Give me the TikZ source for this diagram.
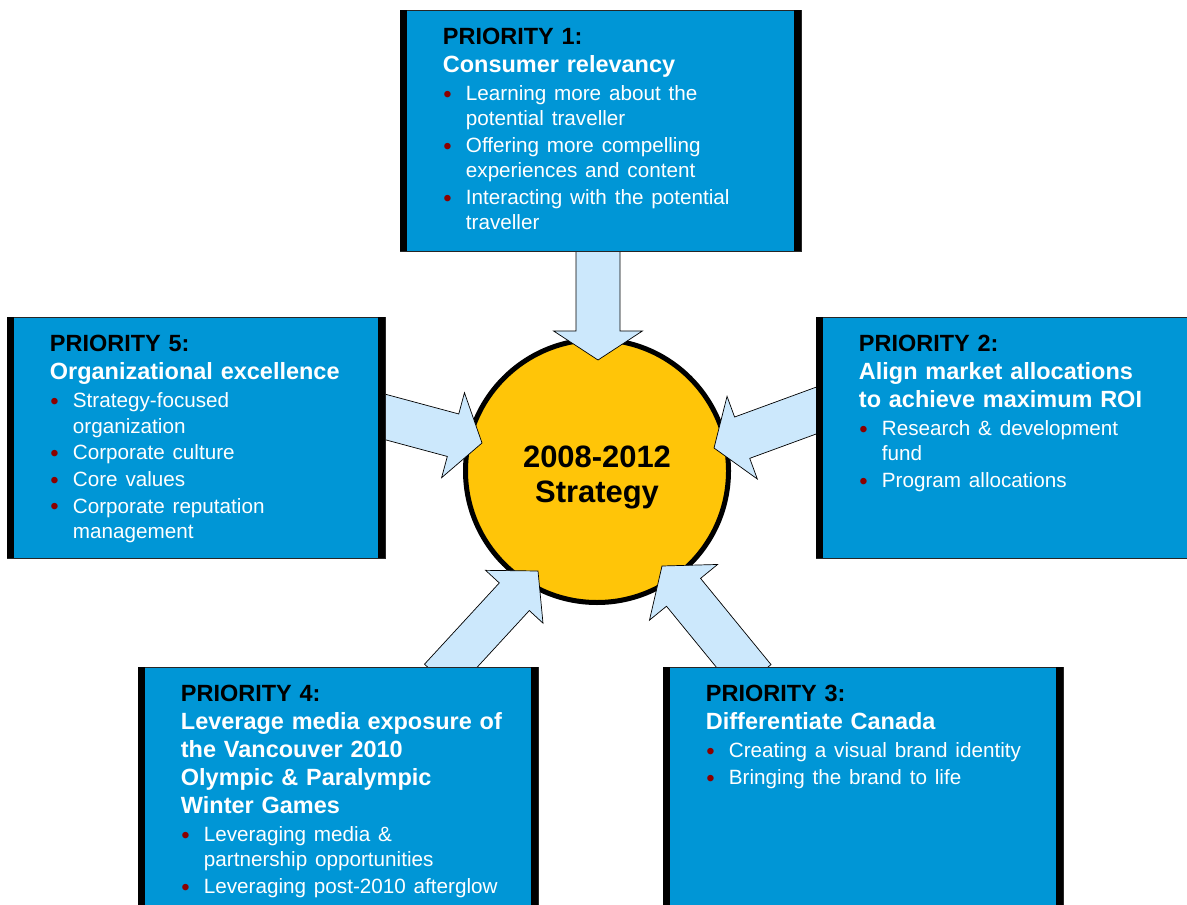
\documentclass[tikz,border=0pt]{standalone}
\usepackage{fontspec}
\setmainfont{Liberation Sans}
\usepackage{xcolor}
\usepackage{tikz}
\usetikzlibrary{positioning}
\usetikzlibrary{calc}

\definecolor{boxblue}{RGB}{0,150,214}
\definecolor{arrowblue}{RGB}{204,232,252}
\definecolor{hubyellow}{RGB}{255,197,8}
\definecolor{dotred}{RGB}{139,0,0}

\newcommand\prio[2]{\textcolor{black}{PRIORITY #1:}\\#2\par\vspace{1.3pt}}
\newcommand\itm[1]{\par\vspace{1.3pt}{\mdseries\fontsize{14.7}{17.8}\selectfont
  \hangindent=5.75mm\hangafter=1\noindent
  \makebox[5.75mm][l]{\hspace{0.1mm}\textcolor{dotred}{\raisebox{-1pt}{\fontsize{17}{17}\selectfont\textbullet}}}#1\par}}
\newcommand\blockarrow[5]{%
  \coordinate (ha) at ($(#2)!#5!(#1)$);
  \filldraw[flow] ($(#1)!#3!90:(#2)$) -- ($(ha)!#3!90:(#2)$) -- ($(ha)!#4!90:(#2)$) -- (#2)
    -- ($(ha)!#4!-90:(#2)$) -- ($(ha)!#3!-90:(#2)$) -- ($(#1)!#3!-90:(#2)$) -- cycle;
}

\begin{document}
\begin{tikzpicture}[x=0.25mm, y=-0.25mm,
    box/.style={rectangle, fill=boxblue, draw=black!85, line width=0.5pt, minimum height=60.25mm, inner sep=0pt},
    bar/.style={fill=black},
    txt/.style={inner sep=0pt, text width=92mm, align=left, text=white, font=\bfseries\fontsize{16.7}{19.9}\selectfont},
    hub/.style={circle, fill=hubyellow, draw=black, line width=1.25mm, minimum size=65.75mm, inner sep=0pt},
    flow/.style={fill=arrowblue, draw=black, line width=0.5pt, line join=miter}
]
\useasboundingbox (0,0) rectangle (1187,905);
\clip (0,0) rectangle (1187,905);

\node[hub] (hub) at (597,471) {};
\node[font=\bfseries\fontsize{22}{24.9}\selectfont, align=center] (year) at ([yshift=-1.5mm]hub.center) {2008-2012\\Strategy};

\coordinate (s1) at (598,240);
\coordinate (t1) at (598,360);
\coordinate (s5) at (370.5,413);
\coordinate (t5) at (482,443);
\coordinate (s2) at (830,405.5);
\coordinate (t2) at (714,448);
\coordinate (s4) at (439.5,678);
\coordinate (t4) at (538,571);
\coordinate (s3) at (754,678.5);
\coordinate (t3) at (662,566);

\blockarrow{s1}{t1}{5.5mm}{11.1mm}{7.25mm}
\blockarrow{s5}{t5}{5.5mm}{11mm}{7.5mm}
\blockarrow{s2}{t2}{5.5mm}{11mm}{7.5mm}
\blockarrow{s4}{t4}{5.1mm}{9.75mm}{8.75mm}
\blockarrow{s3}{t3}{5.5mm}{11mm}{8.5mm}

\node[box, minimum width=100.25mm] (b1) at (600.5,130.5) {};
\node[box, minimum width=94.5mm] (b5) at (196,437.5) {};
\node[box, minimum width=100.25mm] (b2) at (1016.5,437.5) {};
\node[box, minimum width=100mm] (b4) at (338,787.5) {};
\node[box, minimum width=100mm] (b3) at (863,787.5) {};

\foreach \b in {b1,b5,b2,b4,b3} {
  \fill[bar] (\b.north west) rectangle ([xshift=1.75mm]\b.south west);
  \fill[bar] (\b.north east) rectangle ([xshift=-1.75mm]\b.south east);
}

\node[txt, below right=4.5mm and 10.75mm of b1.north west] (p1) {\prio{1}{Consumer relevancy}%
  \itm{Learning more about the\newline potential traveller}%
  \itm{Offering more compelling\newline experiences and content}%
  \itm{Interacting with the potential\newline traveller}};
\node[txt, below right=4.5mm and 10.75mm of b5.north west] (p5) {\prio{5}{Organizational excellence}%
  \itm{Strategy-focused\newline organization}%
  \itm{Corporate culture}%
  \itm{Core values}%
  \itm{Corporate reputation\newline management}};
\node[txt, below right=4.5mm and 10.75mm of b2.north west] (p2) {\prio{2}{Align market allocations\\to achieve maximum ROI}%
  \itm{Research \& development\newline fund}%
  \itm{Program allocations}};
\node[txt, below right=4.5mm and 10.75mm of b4.north west] (p4) {\prio{4}{Leverage media exposure of\\the Vancouver 2010\\Olympic \& Paralympic\\Winter Games}%
  \itm{Leveraging media \&\newline partnership opportunities}%
  \itm{Leveraging post-2010 afterglow}};
\node[txt, below right=4.5mm and 10.75mm of b3.north west] (p3) {\prio{3}{Differentiate Canada}%
  \itm{Creating a visual brand identity}%
  \itm{Bringing the brand to life}};

\end{tikzpicture}
\end{document}
